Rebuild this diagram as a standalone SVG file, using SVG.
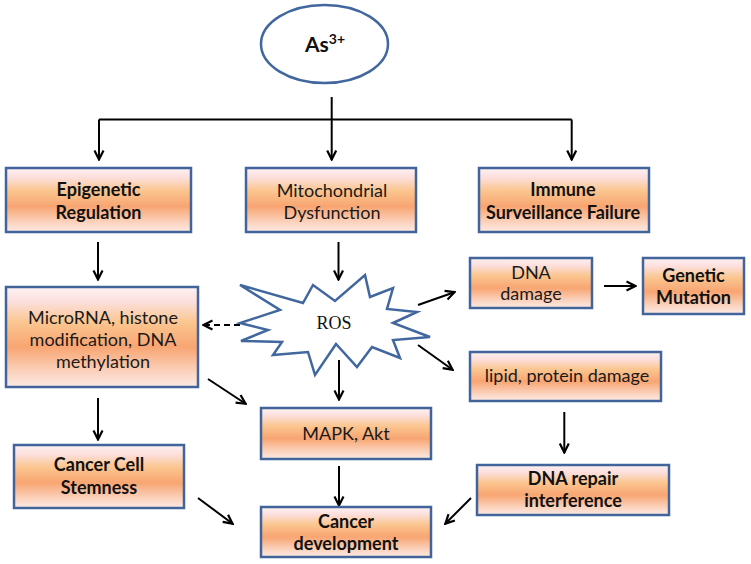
<svg xmlns="http://www.w3.org/2000/svg" width="751" height="564" viewBox="0 0 751 564">
<defs>
<linearGradient id="peach" x1="0" y1="0" x2="0" y2="1">
<stop offset="0" stop-color="#fdf1f3"/>
<stop offset="0.15" stop-color="#fcdfdc"/>
<stop offset="0.35" stop-color="#fbc690"/>
<stop offset="0.6" stop-color="#f8a572"/>
<stop offset="0.85" stop-color="#fbd3be"/>
<stop offset="1" stop-color="#fdeae4"/>
</linearGradient>
<marker id="ah" viewBox="0 0 12 12" refX="11" refY="6" markerWidth="12" markerHeight="12" markerUnits="userSpaceOnUse" orient="auto">
<path d="M1.5,1.5 L10.5,6 L1.5,10.5" fill="none" stroke="#000" stroke-width="2.2"/>
</marker>
<style>
.box{fill:url(#peach);stroke:#41659b;stroke-width:2.5}
.t{font-family:Lato,"Liberation Sans",sans-serif;font-size:18px;fill:#1a1a1a;text-anchor:middle}
.b{font-weight:bold;fill:#111}
.c{fill:none;stroke:#000;stroke-width:2}
.a{marker-end:url(#ah)}
</style>
</defs>
<g id="connectors">
<path class="c" d="M331.7,97 V119.5"/>
<path class="c" d="M99,119.5 H571.7"/>
<path class="c a" d="M99,119.5 V160"/>
<path class="c a" d="M331.7,119.5 V160"/>
<path class="c a" d="M571.7,119.5 V160"/>
<path class="c a" d="M98,242 V280"/>
<path class="c a" d="M338.5,242 V280"/>
<path class="c a" d="M339,360 V400"/>
<path class="c a" d="M98,398 V440"/>
<path class="c a" d="M339,466 V506"/>
<path class="c a" d="M564.3,412 V453"/>
<path class="c a" d="M604,286 H636"/>
<path class="c a" d="M418,305 L455,292"/>
<path class="c a" d="M418,345 L453,370"/>
<path class="c a" d="M240,325 H203" stroke-dasharray="6,4"/>
<path class="c a" d="M208,379 L246,404"/>
<path class="c a" d="M198,498 L233,524"/>
<path class="c a" d="M471,498 L445,524"/>
</g>
<g id="as3">
<ellipse cx="324.5" cy="44" rx="63.5" ry="39" fill="#fff" stroke="#41679e" stroke-width="2.5"/>
<text x="325" y="51.5" font-family="Lato,'Liberation Sans',sans-serif" font-size="21" text-anchor="middle" fill="#111" font-weight="bold">As<tspan font-size="14" dy="-8">3+</tspan></text>
</g>
<g id="epigenetic">
<rect class="box" x="6" y="168" width="185" height="64"/>
<text class="t b" x="98.5" y="195.5">Epigenetic</text>
<text class="t b" x="98.5" y="218.5">Regulation</text>
</g>
<g id="mito">
<rect class="box" x="246" y="168" width="170" height="64"/>
<text class="t" x="332" y="196.5">Mitochondrial</text>
<text class="t" x="332" y="219">Dysfunction</text>
</g>
<g id="immune">
<rect class="box" x="479" y="168" width="170" height="64"/>
<text class="t b" x="563" y="195.5">Immune</text>
<text class="t b" x="563" y="218.5">Surveillance Failure</text>
</g>
<g id="microrna">
<rect class="box" x="6" y="287" width="192" height="100"/>
<text class="t" x="103" y="324">MicroRNA, histone</text>
<text class="t" x="103" y="346">modification, DNA</text>
<text class="t" x="103" y="368">methylation</text>
</g>
<g id="ros">
<polygon points="240,285 303,303 313,285 335,301 365,275 370,297 393,288 387,309 417,312 393,323 430,337 393,340 400,358 372,347 357,367 336,344 315,375 308,352 273,355 282,342 241,341 268,330 240,323 280,310" fill="#fff" stroke="#41679e" stroke-width="2.5" stroke-linejoin="miter"/>
<text x="334" y="328.5" font-family="'Liberation Serif',serif" font-size="18" text-anchor="middle" fill="#111">ROS</text>
</g>
<g id="dnadamage">
<rect class="box" x="470" y="258" width="122" height="50"/>
<text class="t" x="531" y="278.5">DNA</text>
<text class="t" x="531" y="300">damage</text>
</g>
<g id="genetic">
<rect class="box" x="643" y="258" width="101" height="56"/>
<text class="t b" x="693.5" y="281.5">Genetic</text>
<text class="t b" x="693.5" y="304">Mutation</text>
</g>
<g id="lipid">
<rect class="box" x="470" y="352" width="191" height="49"/>
<text class="t" x="567" y="382">lipid, protein damage</text>
</g>
<g id="mapk">
<rect class="box" x="261" y="408" width="170" height="51"/>
<text class="t" x="346" y="440">MAPK, Akt</text>
</g>
<g id="stemness">
<rect class="box" x="14" y="445" width="170" height="63"/>
<text class="t b" x="99" y="471">Cancer Cell</text>
<text class="t b" x="99" y="493.5">Stemness</text>
</g>
<g id="dnarepair">
<rect class="box" x="477" y="465" width="192" height="50"/>
<text class="t b" x="573" y="484.5">DNA repair</text>
<text class="t b" x="573" y="506.5">interference</text>
</g>
<g id="cancer">
<rect class="box" x="261" y="507" width="170" height="50"/>
<text class="t b" x="346" y="527.5">Cancer</text>
<text class="t b" x="346" y="549.5">development</text>
</g>
</svg>
